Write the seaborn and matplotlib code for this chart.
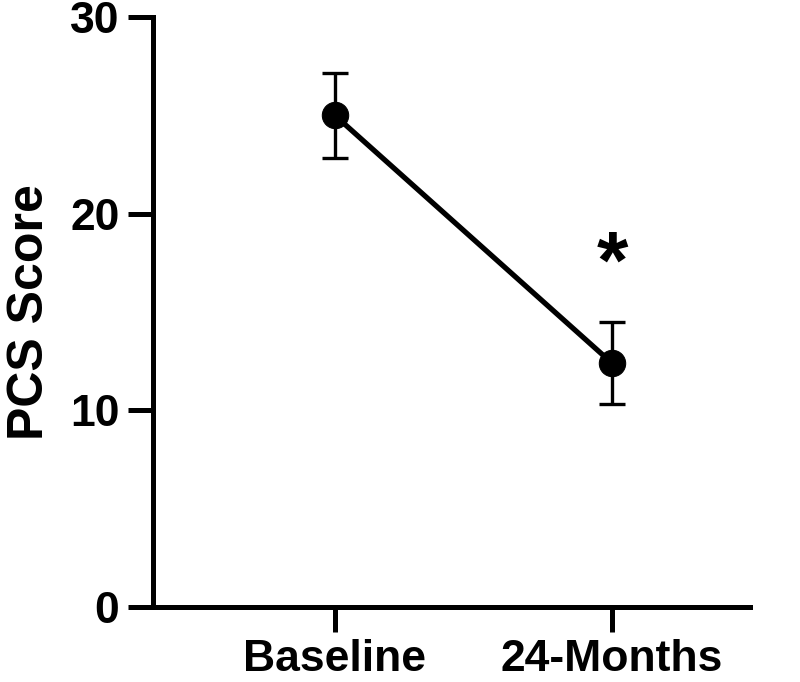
import matplotlib
matplotlib.use("Agg")
import matplotlib.pyplot as plt
import seaborn as sns
import pandas as pd

# data (mean +/- error)
timepoints = ["Baseline", "24-Months"]
pcs_mean = [25.0, 12.4]
pcs_err = [2.15, 2.1]
star_y = 17.3

sns.set_style("ticks")
plt.rcParams['font.family'] = ['Liberation Sans', 'DejaVu Sans']
plt.rcParams['font.weight'] = 'bold'
plt.rcParams['text.color'] = 'black'
plt.rcParams['xtick.color'] = 'black'
plt.rcParams['ytick.color'] = 'black'
plt.rcParams['axes.labelcolor'] = 'black'

df = pd.DataFrame({'x': range(len(timepoints)), 'pcs': pcs_mean})

fig = plt.figure(figsize=(8, 6.82), dpi=100)
ax = fig.add_axes([0.191, 0.11, 0.7465, 0.865])

ax.errorbar(df['x'], df['pcs'], yerr=pcs_err, fmt='none', ecolor='black',
            elinewidth=2.4, capsize=9.5, capthick=2.4, zorder=2)
sns.lineplot(data=df, x='x', y='pcs', ax=ax, color='black', linewidth=3.8,
             marker='o', markersize=19, markeredgecolor='black', zorder=3)

ax.text(1, star_y, '*', ha='center', va='center', fontsize=58, fontweight='bold')

ax.set_xlim(-0.657, 1.498)
ax.set_ylim(0, 30)
ax.set_yticks([0, 10, 20, 30])
ax.set_xticks(range(len(timepoints)))
ax.set_xticklabels(timepoints)
ax.set_xlabel('')
ax.set_ylabel('PCS Score', fontsize=36, fontweight='bold', labelpad=12)
ax.tick_params(axis='both', labelsize=32, width=3.6, length=18, direction='out', color='black')
ax.tick_params(axis='y', pad=6)
ax.tick_params(axis='x', pad=5)
for lab in ax.get_xticklabels() + ax.get_yticklabels():
    lab.set_fontweight('bold')

sns.despine(ax=ax)
for s in ['left', 'bottom']:
    ax.spines[s].set_linewidth(3.6)
    ax.spines[s].set_color('black')

fig.savefig('out.png', dpi=100)
